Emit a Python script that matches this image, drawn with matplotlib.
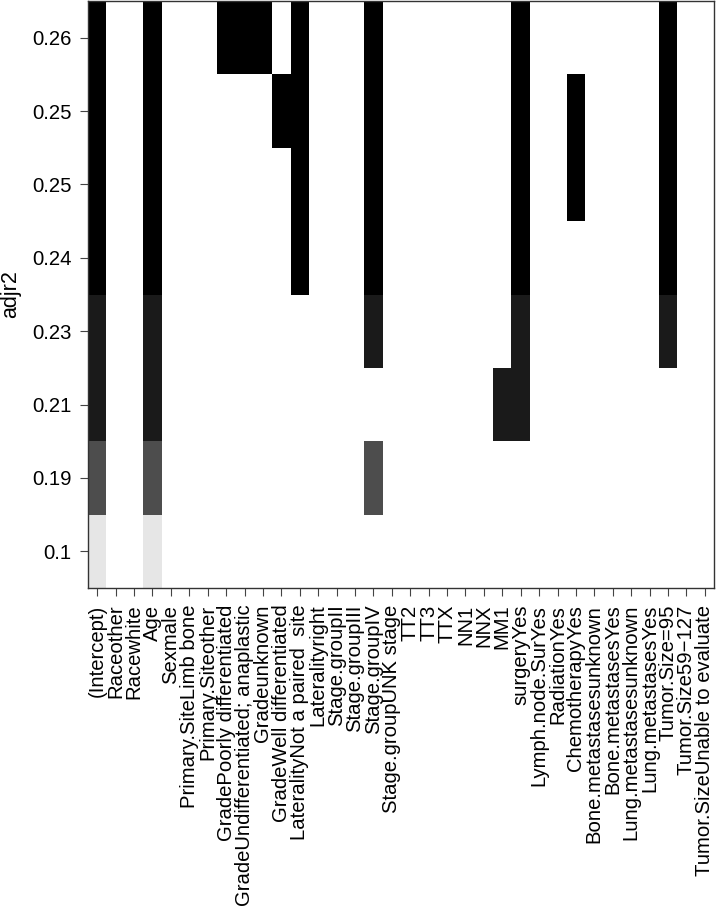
import numpy as np
import matplotlib.pyplot as plt
from matplotlib.colors import ListedColormap

plt.rcParams['font.family'] = ['Liberation Sans', 'DejaVu Sans']

# variables (columns of the leaps plot)
variables = ['(Intercept)', 'Raceother', 'Racewhite', 'Age', 'Sexmale',
             'Primary.SiteLimb bone', 'Primary.Siteother',
             'GradePoorly differentiated', 'GradeUndifferentiated; anaplastic',
             'Gradeunknown', 'GradeWell differentiated',
             'LateralityNot a paired  site', 'Lateralityright',
             'Stage.groupII', 'Stage.groupIII', 'Stage.groupIV',
             'Stage.groupUNK stage', 'TT2', 'TT3', 'TTX', 'NN1', 'NNX', 'MM1',
             'surgeryYes', 'Lymph.node.SurYes', 'RadiationYes',
             'ChemotherapyYes', 'Bone.metastasesunknown', 'Bone.metastasesYes',
             'Lung.metastasesunknown', 'Lung.metastasesYes', 'Tumor.Size=95',
             'Tumor.Size59\u2212127', 'Tumor.SizeUnable to evaluate']

# models, best on top
adjr2_labels = ['0.26', '0.25', '0.25', '0.24', '0.23', '0.21', '0.19', '0.1']
shade_idx = [0, 0, 0, 0, 1, 1, 3, 9]   # index into gray(seq(0, 0.9, length=10))
models = [
    ['(Intercept)', 'Age', 'GradePoorly differentiated',
     'GradeUndifferentiated; anaplastic', 'Gradeunknown',
     'LateralityNot a paired  site', 'Stage.groupIV', 'surgeryYes', 'Tumor.Size=95'],
    ['(Intercept)', 'Age', 'GradeWell differentiated',
     'LateralityNot a paired  site', 'Stage.groupIV', 'surgeryYes',
     'ChemotherapyYes', 'Tumor.Size=95'],
    ['(Intercept)', 'Age', 'LateralityNot a paired  site', 'Stage.groupIV',
     'surgeryYes', 'ChemotherapyYes', 'Tumor.Size=95'],
    ['(Intercept)', 'Age', 'LateralityNot a paired  site', 'Stage.groupIV',
     'surgeryYes', 'Tumor.Size=95'],
    ['(Intercept)', 'Age', 'Stage.groupIV', 'surgeryYes', 'Tumor.Size=95'],
    ['(Intercept)', 'Age', 'MM1', 'surgeryYes'],
    ['(Intercept)', 'Age', 'Stage.groupIV'],
    ['(Intercept)', 'Age'],
]

nv = len(variables)
nm = len(models)
z = np.full((nm, nv), np.nan)
for i, m in enumerate(models):
    for v in m:
        z[i, variables.index(v)] = shade_idx[i]

grays = [str(g) for g in np.linspace(0, 0.9, 10)]
cmap = ListedColormap(grays)
cmap.set_bad('white')

fig = plt.figure(figsize=(7.16, 9.09), dpi=100)
ax = fig.add_axes([88/716, 1 - 588/909, 626/716, 587/909])
ax.pcolormesh(np.arange(nv + 1) - 0.5, np.arange(nm + 1) - 0.5,
              np.ma.masked_invalid(z), cmap=cmap, vmin=-0.5, vmax=9.5)
ax.set_xlim(-0.5, nv - 0.5)
ax.set_ylim(nm - 0.5, -0.5)

ax.set_xticks(np.arange(nv))
ax.set_xticklabels(variables, rotation=90, fontsize=14.6)
ax.set_yticks(np.arange(nm))
ax.set_yticklabels(adjr2_labels, fontsize=14.6)
ax.tick_params(length=6, width=0.8, color='#444444', pad=6)
ax.set_ylabel('adjr2', fontsize=15.5, va='center')
ax.yaxis.set_label_coords(-0.124, 0.5)
for s in ax.spines.values():
    s.set_color('#333333')
    s.set_linewidth(1.0)

fig.savefig('out.png', dpi=100)
